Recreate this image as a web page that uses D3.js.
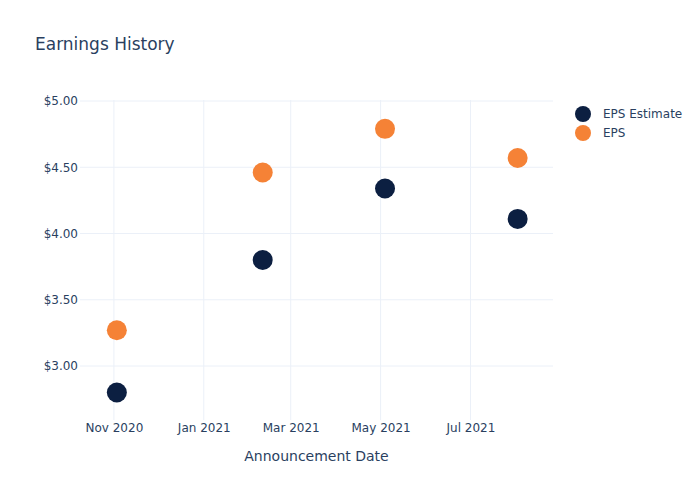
<!DOCTYPE html>
<html><head><meta charset="utf-8">
<script src="https://cdn.jsdelivr.net/npm/d3@7"></script>
<style>body{margin:0;background:#fff;font-family:"DejaVu Sans",sans-serif;}</style>
</head><body><svg id="c" width="700" height="500"></svg>
<script>
const dates = ["2020-11-03","2021-02-10","2021-05-04","2021-08-02"];
const epsEstimate = [2.80, 3.80, 4.34, 4.11];
const eps = [3.27, 4.46, 4.79, 4.57];
const xTicks = ["2020-11-01","2021-01-01","2021-03-01","2021-05-01","2021-07-01"];
const yTicks = [3.0, 3.5, 4.0, 4.5, 5.0];
const seriesNames = ["EPS Estimate","EPS"];
const colors = ["#0c1f41","#f58236"];

const parse = d3.utcParse("%Y-%m-%d");
const svg = d3.select("#c");
const m = {l:80, r:147, t:100, b:80};
const W = 700, H = 500;
const F = "'DejaVu Sans', sans-serif";
const x = d3.scaleUtc().domain([parse("2020-10-09"), parse("2021-08-26")]).range([m.l, W-m.r]);
const y = d3.scaleLinear().domain([2.585, 5.0]).range([H-m.b+1, m.t+1]);
const txt = "#2a3f5f", grid = "#ebf0f8";

const g = svg.append("g");
g.selectAll(".xg").data(xTicks).join("line")
  .attr("x1", d=>x(parse(d))).attr("x2", d=>x(parse(d)))
  .attr("y1", m.t).attr("y2", H-m.b).attr("stroke", grid).attr("stroke-width",1);
g.selectAll(".yg").data(yTicks).join("line")
  .attr("x1", m.l).attr("x2", W-m.r)
  .attr("y1", d=>y(d)).attr("y2", d=>y(d)).attr("stroke", grid).attr("stroke-width",1);

const xAxis = d3.axisBottom(x).tickValues(xTicks.map(parse)).tickFormat(d3.utcFormat("%b %Y")).tickSize(0).tickPadding(3);
svg.append("g").attr("transform",`translate(0,${H-m.b})`).call(xAxis)
  .call(a=>a.select(".domain").remove())
  .selectAll("text").attr("fill",txt).style("font-size","12px").style("font-family",F);
const yAxis = d3.axisLeft(y).tickValues(yTicks).tickFormat(d=>"$"+d3.format(".2f")(d)).tickSize(0).tickPadding(2);
svg.append("g").attr("transform",`translate(${m.l},0)`).call(yAxis)
  .call(a=>a.select(".domain").remove())
  .selectAll("text").attr("fill",txt).style("font-size","12px").style("font-family",F);

const series = [epsEstimate, eps];
series.forEach((vals,i)=>{
  svg.append("g").selectAll("circle").data(vals).join("circle")
    .attr("cx",(d,j)=>x(parse(dates[j]))).attr("cy",d=>y(d)).attr("r",10)
    .attr("fill",colors[i]);
});

svg.append("text").attr("x",35).attr("y",50).text("Earnings History")
  .attr("fill",txt).style("font-size","17px").style("font-family",F);
svg.append("text").attr("x",(m.l+W-m.r)/2).attr("y",461).attr("text-anchor","middle").text("Announcement Date")
  .attr("fill",txt).style("font-size","14px").style("font-family",F);

const lg = svg.append("g");
seriesNames.forEach((n,i)=>{
  lg.append("circle").attr("cx",583).attr("cy",114+i*19).attr("r",8).attr("fill",colors[i]);
  lg.append("text").attr("x",603).attr("y",114+i*19).attr("dy","0.35em").text(n)
    .attr("fill",txt).style("font-size","12px").style("font-family",F);
});
</script></body></html>
